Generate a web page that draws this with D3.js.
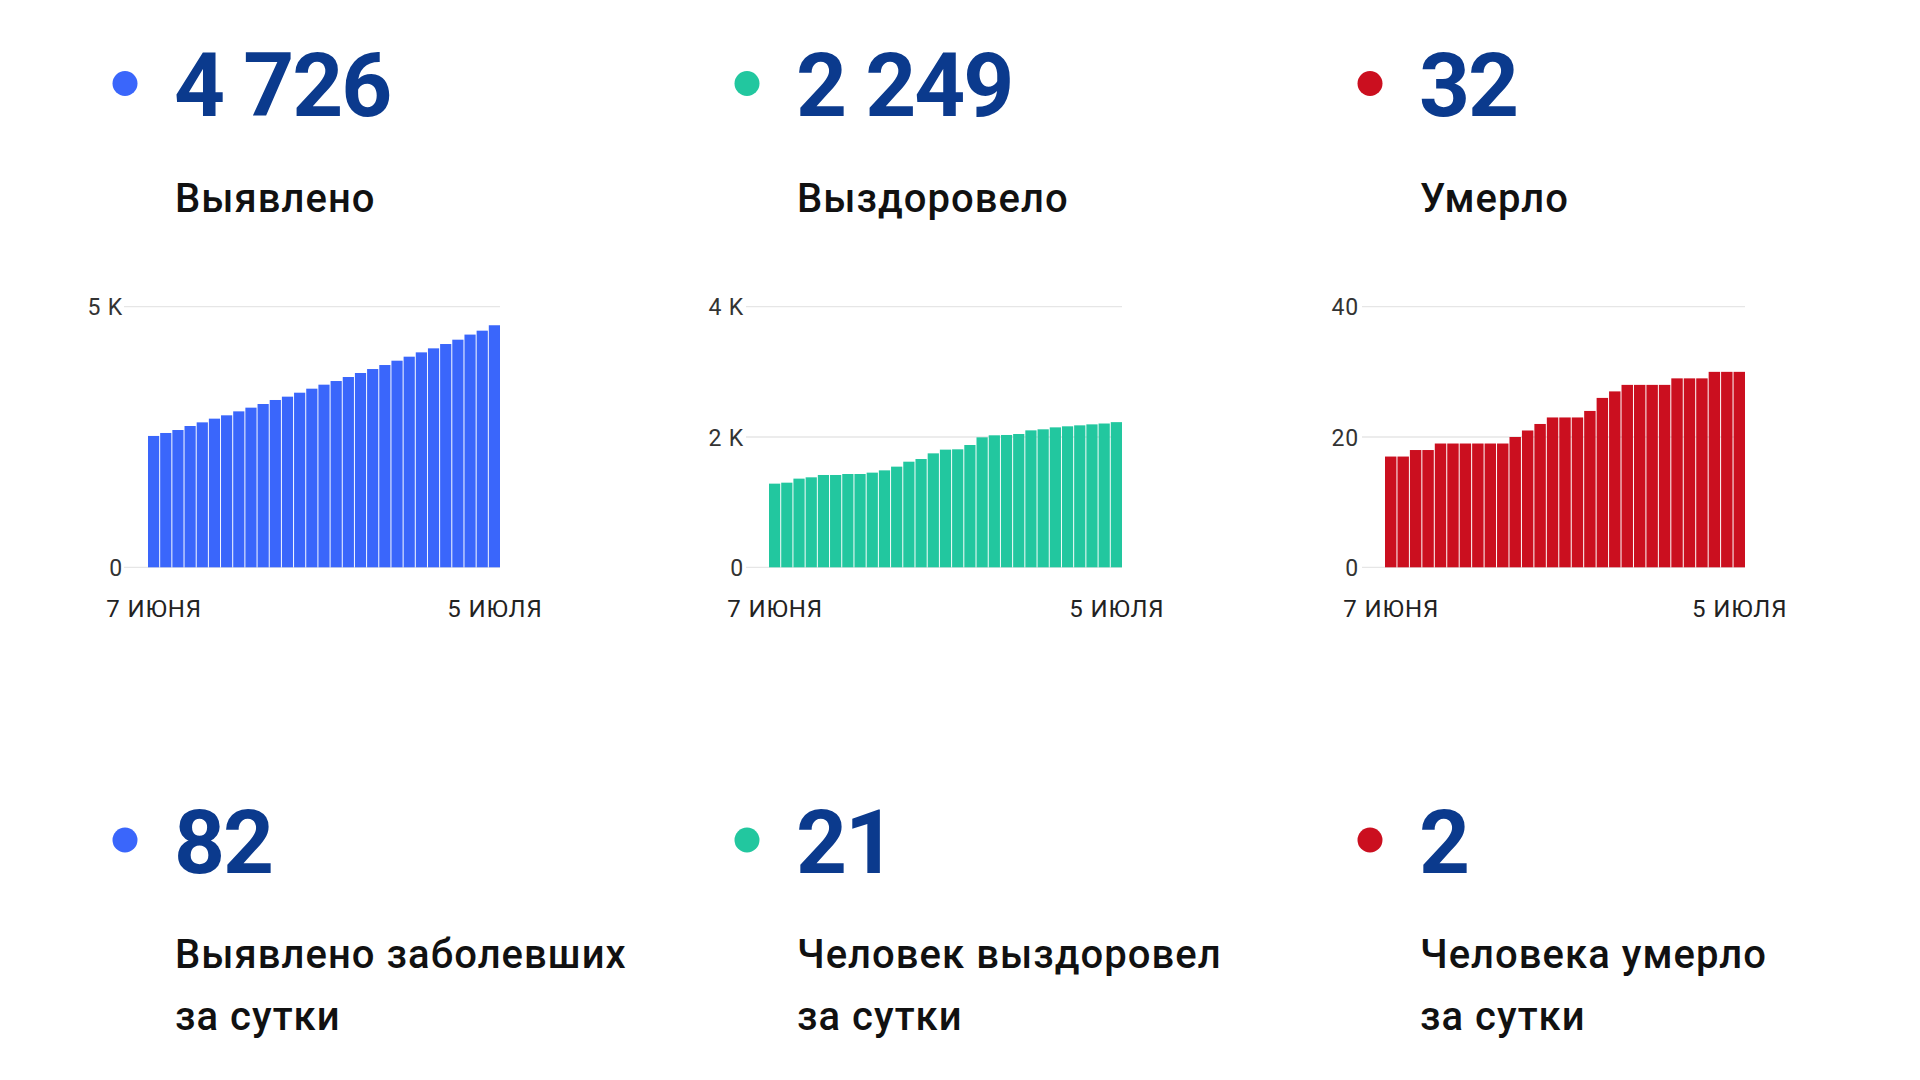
<!DOCTYPE html>
<html><head><meta charset="utf-8">
<script src="https://cdn.jsdelivr.net/npm/d3@7"></script>
<style>
html,body{margin:0;padding:0;background:#fff;}
svg{display:block;font-family:Roboto,"Open Sans",sans-serif;}
</style></head>
<body>
<script>
// ---- data ----
const dates = d3.range(29).map(i => { const d = new Date(2020, 5, 7); d.setDate(d.getDate() + i); return d; });
const xTickLabels = ["7 ИЮНЯ", "5 ИЮЛЯ"];

const detected = [2520, 2577, 2634, 2711, 2781, 2852, 2916, 2992, 3063, 3133, 3210, 3274, 3350, 3427, 3504, 3574, 3651, 3728, 3804, 3881, 3964, 4041, 4124, 4201, 4284, 4367, 4465, 4540, 4644];
const recovered = [1284, 1299, 1361, 1381, 1417, 1417, 1432, 1432, 1453, 1488, 1545, 1621, 1662, 1749, 1806, 1811, 1877, 1995, 2026, 2031, 2046, 2102, 2118, 2148, 2164, 2179, 2194, 2207, 2228];
const deaths = [17, 17, 18, 18, 19, 19, 19, 19, 19, 19, 20, 21, 22, 23, 23, 23, 24, 26, 27, 28, 28, 28, 28, 29, 29, 29, 30, 30, 30];

const yTicksDetected = [0, 5000];
const yTicksRecovered = [0, 2000, 4000];
const yTicksDeaths = [0, 20, 40];
const yTickLabelsDetected = ["0", "5 K"];
const yTickLabelsRecovered = ["0", "2 K", "4 K"];
const yTickLabelsDeaths = ["0", "20", "40"];

const totals = ["4 726", "2 249", "32"];
const totalLabels = ["Выявлено", "Выздоровело", "Умерло"];
const daily = ["82", "21", "2"];
const dailyLabels = [["Выявлено заболевших", "за сутки"], ["Человек выздоровел", "за сутки"], ["Человека умерло", "за сутки"]];

// ---- styles / layout ----
const colors = ["#3a66fb", "#22c79f", "#cb0f1f"];
const numColor = "#0b3a8d";
const colX = [125, 747, 1370];

const charts = [
  {values: detected, ticks: yTicksDetected, tickLabels: yTickLabelsDetected, max: 5000, labelX: 123, gridX0: 124, barX0: 148, x1: 500},
  {values: recovered, ticks: yTicksRecovered, tickLabels: yTickLabelsRecovered, max: 4000, labelX: 744, gridX0: 746, barX0: 769, x1: 1122},
  {values: deaths, ticks: yTicksDeaths, tickLabels: yTickLabelsDeaths, max: 40, labelX: 1359, gridX0: 1362, barX0: 1385, x1: 1745}
];
const yTop = 306.7, yBottom = 567.3;

const svg = d3.select("body").append("svg").attr("width", 1920).attr("height", 1080);
svg.append("rect").attr("width", 1920).attr("height", 1080).attr("fill", "#fff");

// headers
colX.forEach((cx, i) => {
  const g = svg.append("g");
  g.append("circle").attr("cx", cx).attr("cy", 83.5).attr("r", 12.5).attr("fill", colors[i]);
  g.append("text").attr("x", cx + 49).attr("y", 116).attr("font-size", 89).attr("font-weight", 700)
    .attr("letter-spacing", -2).attr("fill", numColor).text(totals[i]);
  g.append("text").attr("x", cx + 50).attr("y", 211.5).attr("font-size", 40).attr("font-weight", 500)
    .attr("letter-spacing", 1.05).attr("fill", "#111").text(totalLabels[i]);

  g.append("circle").attr("cx", cx).attr("cy", 840).attr("r", 12.5).attr("fill", colors[i]);
  g.append("text").attr("x", cx + 49).attr("y", 872.7).attr("font-size", 89).attr("font-weight", 700)
    .attr("letter-spacing", -2).attr("fill", numColor).text(daily[i]);
  dailyLabels[i].forEach((line, j) => {
    g.append("text").attr("x", cx + 50).attr("y", 968 + j * 62).attr("font-size", 40).attr("font-weight", 500)
      .attr("letter-spacing", 1.05).attr("fill", "#111").text(line);
  });
});

// charts
charts.forEach((c, i) => {
  const g = svg.append("g");
  const y = d3.scaleLinear().domain([0, c.max]).range([yBottom, yTop]);
  const x = d3.scaleBand().domain(dates.map(d => +d)).range([c.barX0, c.x1]).paddingInner(0.08).paddingOuter(0);

  // grid lines
  g.selectAll("line.grid").data(c.ticks).join("line")
    .attr("x1", c.gridX0).attr("x2", c.x1)
    .attr("y1", d => y(d)).attr("y2", d => y(d))
    .attr("stroke", "#e6e6e6").attr("stroke-width", 1.3);

  // y axis labels
  const yAxis = d3.axisLeft(y).tickValues(c.ticks).tickSize(0).tickPadding(0)
    .tickFormat((d, k) => c.tickLabels[k]);
  const ya = g.append("g").attr("transform", `translate(${c.labelX},0)`).call(yAxis);
  ya.select(".domain").remove();
  ya.selectAll("text").attr("font-size", 23).attr("letter-spacing", 0.8).attr("fill", "#333")
    .attr("font-family", "Roboto, sans-serif").attr("dy", "0.36em");

  // bars
  g.selectAll("rect.bar").data(c.values).join("rect")
    .attr("x", (d, k) => x(+dates[k]))
    .attr("width", x.bandwidth())
    .attr("y", d => y(d))
    .attr("height", d => y(0) - y(d))
    .attr("fill", colors[i]);

  // x labels
  const xs = [dates[0], dates[dates.length - 1]];
  g.selectAll("text.xl").data(xs).join("text")
    .attr("x", d => x(+d) + x.bandwidth() / 2 + 0.5)
    .attr("y", 616.7).attr("text-anchor", "middle")
    .attr("font-size", 24).attr("letter-spacing", 0.9).attr("fill", "#222")
    .text((d, k) => xTickLabels[k]);
});
</script>
</body></html>
